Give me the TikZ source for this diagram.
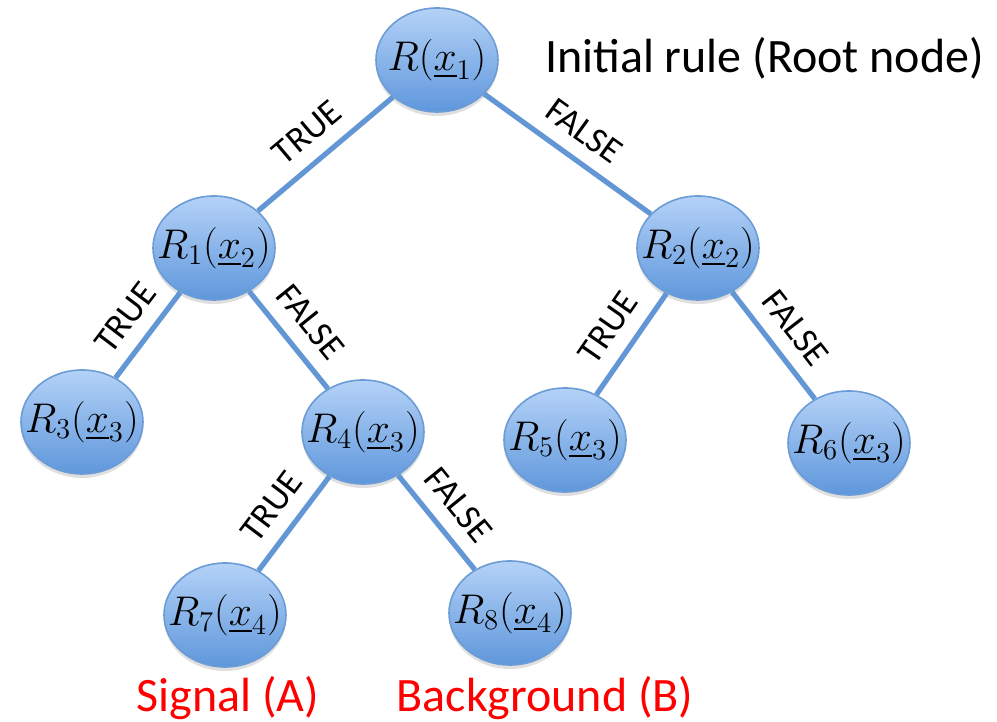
\documentclass[tikz,border=0pt]{standalone}
\usepackage{amsmath,amssymb}
\usepackage{fontspec}
\newfontfamily\carlito{Carlito}
\usepackage{tikz}
\usetikzlibrary{shapes.geometric,shadows}

\definecolor{ruletop}{HTML}{B4D2F7}
\definecolor{rulebot}{HTML}{5F97DC}
\definecolor{ruleline}{HTML}{6C9CD6}
\definecolor{branchblue}{HTML}{6396D4}

\tikzset{
  rule/.style={ellipse, draw=ruleline, line width=0.8pt,
    top color=ruletop, bottom color=rulebot,
    minimum width=61pt, minimum height=52pt, inner sep=0pt,
    drop shadow={opacity=0.25, shadow xshift=0pt, shadow yshift=-2pt},
    font=\fontsize{20}{24}\selectfont},
  branch/.style={draw=branchblue, line width=2.6pt},
  cut/.style={font=\carlito\fontsize{18}{21}\selectfont, inner sep=2pt, sloped, above=5pt},
  note/.style={font=\carlito\fontsize{24}{28}\selectfont}
}
\newcommand{\rulelabel}[1]{\makebox[0pt]{$#1$}}

\begin{document}
\begin{tikzpicture}[x=0.5pt,y=0.5pt]
\useasboundingbox (0,0) rectangle (997,722);

% rules
\node[rule] (r0) at (437,662) {\rulelabel{R(\underline{x}_1)}};
\node[rule] (r1) at (214,474) {\rulelabel{R_1(\underline{x}_2)}};
\node[rule] (r2) at (698,474) {\rulelabel{R_2(\underline{x}_2)}};
\node[rule] (r3) at (82,300) {\rulelabel{R_3(\underline{x}_3)}};
\node[rule] (r4) at (363,290) {\rulelabel{R_4(\underline{x}_3)}};
\node[rule] (r5) at (565,282) {\rulelabel{R_5(\underline{x}_3)}};
\node[rule] (r6) at (849,279) {\rulelabel{R_6(\underline{x}_3)}};
\node[rule] (r7) at (225,107) {\rulelabel{R_7(\underline{x}_4)}};
\node[rule] (r8) at (510,109) {\rulelabel{R_8(\underline{x}_4)}};

% branches
\draw[branch] (r0) -- node[cut] {TRUE} (r1);
\draw[branch] (r0) -- node[cut] {FALSE} (r2);
\draw[branch] (r1) -- node[cut] {TRUE} (r3);
\draw[branch] (r1) -- node[cut] {FALSE} (r4);
\draw[branch] (r2) -- node[cut] {TRUE} (r5);
\draw[branch] (r2) -- node[cut] {FALSE} (r6);
\draw[branch] (r4) -- node[cut] {TRUE} (r7);
\draw[branch] (r4) -- node[cut] {FALSE} (r8);

% notes
\node[note, anchor=west] (root) at (538,664) {Initial rule (Root node)};
\node[note, text=red] (sig) at (228,24) {Signal (A)};
\node[note, text=red] (bkg) at (545,24) {Background (B)};
\end{tikzpicture}
\end{document}
